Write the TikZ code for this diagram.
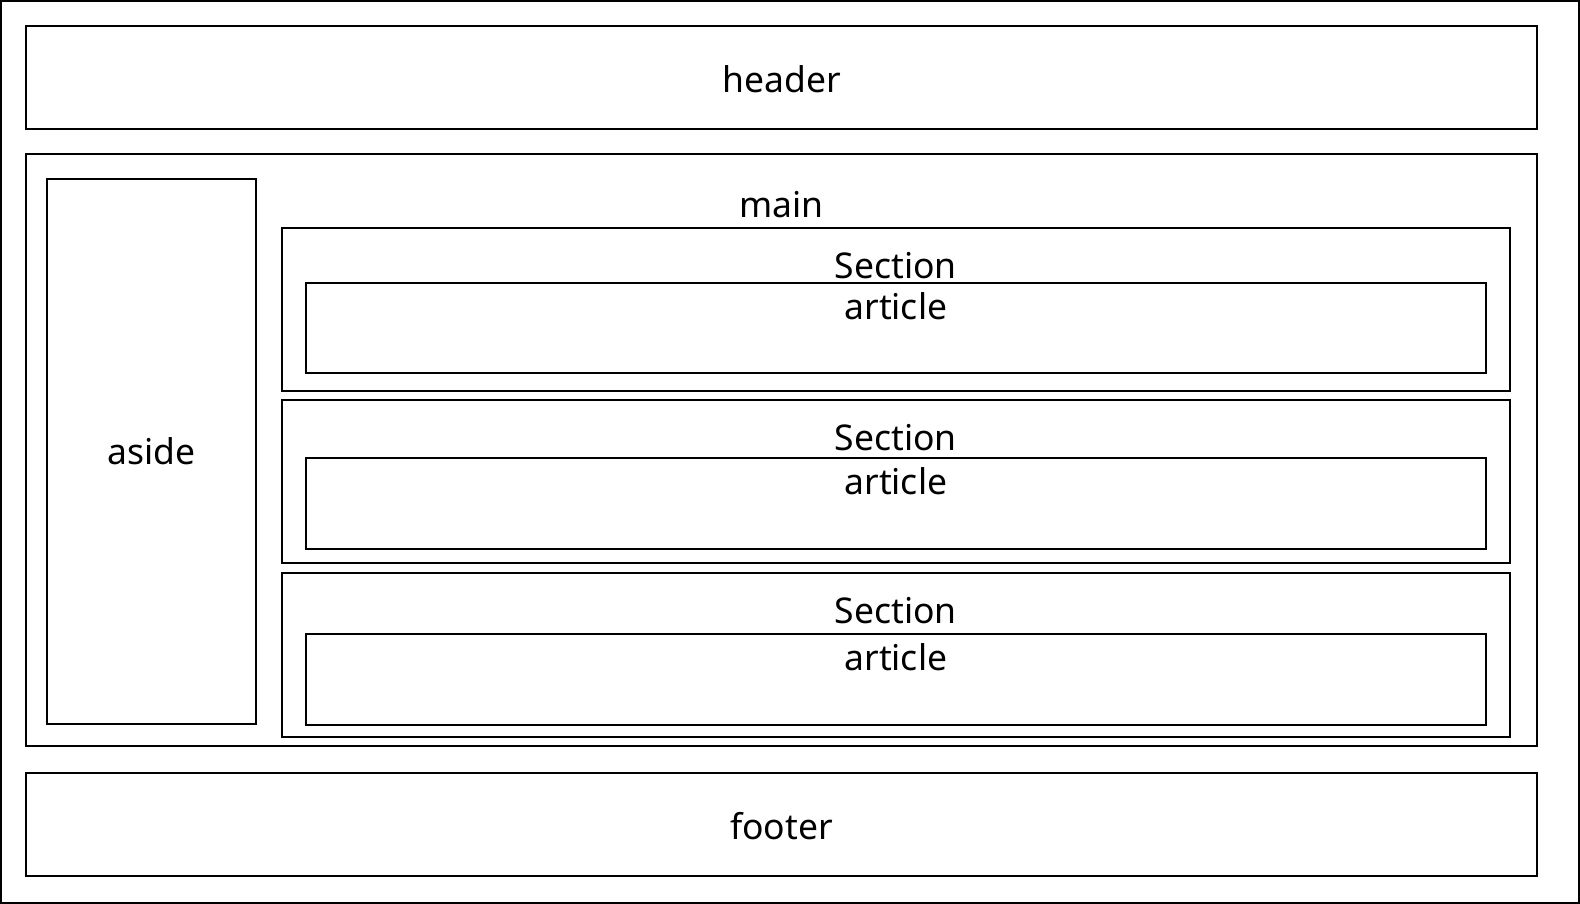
\documentclass[tikz,border=0pt]{standalone}
\usepackage{fontspec}
\setmainfont{Noto Sans}
\begin{document}
\begin{tikzpicture}[x=1pt,y=-1pt,
  bx/.style={draw, line width=2pt, inner sep=0pt},
  lbl/.style={anchor=base, inner sep=0pt, font=\fontsize{35.5}{42}\selectfont}]
\useasboundingbox (0,0) rectangle (1580,904);
\node[bx, minimum width=1578pt, minimum height=902pt] (frame) at (790,452) {};
\node[bx, minimum width=1511pt, minimum height=103pt] (header) at (781.5,77.5) {};
\node[bx, minimum width=1511pt, minimum height=591.7pt] (main) at (781.5,449.8) {};
\node[bx, minimum width=1511pt, minimum height=103pt] (footer) at (781.5,824.2) {};
\node[bx, minimum width=209.3pt, minimum height=545pt] (aside) at (151.3,451.8) {};
\node[bx, minimum width=1228.3pt, minimum height=162.7pt] (sec1) at (895.8,309.3) {};
\node[bx, minimum width=1228.3pt, minimum height=163.3pt] (sec2) at (895.8,481.7) {};
\node[bx, minimum width=1228.3pt, minimum height=163.4pt] (sec3) at (895.8,655) {};
\node[bx, minimum width=1180pt, minimum height=90.6pt] (art1) at (896,328) {};
\node[bx, minimum width=1180pt, minimum height=90.7pt] (art2) at (896,503.7) {};
\node[bx, minimum width=1180pt, minimum height=90.7pt] (art3) at (896,679.2) {};
\node[lbl] (theader) at (781.5,92.5) {header};
\node[lbl] (tmain) at (781.5,217.5) {main};
\node[lbl] (tfooter) at (781.5,839) {footer};
\node[lbl] (taside) at (151.3,464.3) {aside};
\node[lbl] (tsec1) at (895.8,278.3) {Section};
\node[lbl] (tart1) at (895.8,319.3) {article};
\node[lbl] (tsec2) at (895.8,450.3) {Section};
\node[lbl] (tart2) at (895.8,494.9) {article};
\node[lbl] (tsec3) at (895.8,623.6) {Section};
\node[lbl] (tart3) at (895.8,670.4) {article};
\end{tikzpicture}
\end{document}
